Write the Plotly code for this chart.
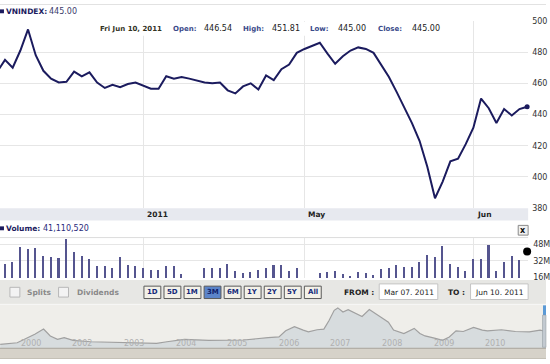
import plotly.graph_objects as go
import pandas as pd

W, H = 550, 364

# ---------------- data ----------------
dates = pd.bdate_range("2011-03-07", "2011-06-10").strftime("%Y-%m-%d").tolist()

close = [467.5, 475, 470, 481, 494.5, 478, 468, 463, 460.5, 461,
         467.5, 464.5, 467, 460.5, 457, 459, 457.5, 459.5, 460.5, 458.5,
         456.5, 456.5, 464.5, 463, 464, 463, 461.5, 460.5, 460, 460.5,
         455.5, 453.5, 458, 460, 456, 465, 462, 469, 472, 479.5,
         482, 484, 486, 479, 472.5, 477.3, 481, 483, 482, 479.5,
         472, 464, 454.5, 445, 434.5, 423, 406.5, 386.3, 397, 410,
         411.7, 421, 431.5, 450.2, 444, 434.6, 443.5, 439.4, 443.5, 445]

volume_m = [30, 29.4, 31.7, 46.1, 43.9, 45.4, 36.8, 36.2, 35.6, 53.5,
            41.3, 36.8, 33.9, 27.8, 27.8, 25.2, 36.2, 28.2, 27.2, 25.2,
            23.7, 23.7, 27.2, 27.5, 19.8, 0, 0, 25.2, 25.2, 25.9,
            29.4, 22.7, 20.8, 22.0, 24.0, 25.6, 28.2, 28.2, 23.0, 25.2,
            0, 0, 20.8, 21.4, 22.7, 19.8, 18.2, 21.4, 21.0, 19.0,
            24.6, 25.2, 28.2, 26.9, 26.3, 31.7, 38.4, 35.8, 46.7, 29.4,
            26.9, 22.4, 34.3, 34.6, 48.0, 22.4, 31.7, 37.5, 33.3, 41.11052]

nav_year = [2000.60, 2000.93, 2001.27, 2001.44, 2001.57, 2001.71, 2001.84, 2002.01,
            2002.35, 2002.62, 2003.30, 2003.63, 2003.83, 2004.17, 2004.64, 2005.32,
            2005.79, 2006.00, 2006.13, 2006.30, 2006.47, 2006.57, 2006.74, 2006.87,
            2006.97, 2007.07, 2007.14, 2007.24, 2007.34, 2007.48, 2007.61, 2007.75,
            2007.88, 2008.02, 2008.12, 2008.22, 2008.42, 2008.52, 2008.62, 2008.73,
            2008.83, 2009.03, 2009.17, 2009.30, 2009.43, 2009.57, 2009.77, 2009.94,
            2010.04, 2010.31, 2010.58, 2010.85, 2011.06, 2011.20, 2011.44]
nav_value = [100, 150, 400, 550, 350, 250, 300, 220,
             180, 170, 150, 130, 180, 250, 220, 230,
             300, 320, 500, 620, 520, 470, 530, 550,
             800, 1100, 1170, 1050, 1120, 1020, 920, 1120,
             1000, 850, 750, 520, 420, 500, 570, 420,
             350, 280, 220, 320, 500, 480, 600, 520,
             500, 530, 480, 470, 520, 470, 445]
nav_tick_years = [2001, 2002, 2003, 2004, 2005, 2006, 2007, 2008, 2009, 2010, 2011]
nav_tick_labels = ["2000", "2002", "2003", "2004", "2005", "2006", "2007", "2008", "2009", "2010", "2011"]

price_ticks = [380, 400, 420, 440, 460, 480, 500]
vol_ticks_m = [16, 32, 48]
month_marks = ["2011-04-01", "2011-05-02", "2011-06-01"]
month_labels = ["2011", "May", "Jun"]
range_buttons = ["1D", "5D", "1M", "3M", "6M", "1Y", "2Y", "5Y", "All"]
selected_button = "3M"

# ---------------- helpers ----------------
def fx(x):
    return x / W

def fy(y):
    return 1 - y / H

FONT = "DejaVu Sans"
NAVY = "#1b1b5e"
PLOT_R = 532

fig = go.Figure()

fig.add_trace(go.Scatter(x=dates, y=close, mode="lines",
                         line=dict(color=NAVY, width=2), xaxis="x", yaxis="y",
                         hoverinfo="skip"))
fig.add_trace(go.Scatter(x=[dates[-1]], y=[close[-1]], mode="markers",
                         marker=dict(color=NAVY, size=5), xaxis="x", yaxis="y",
                         cliponaxis=False, hoverinfo="skip"))
fig.add_trace(go.Bar(x=dates[:-1], y=[v * 1e6 for v in volume_m[:-1]], width=0.2,
                     marker=dict(color="#55558f", line=dict(width=0)),
                     xaxis="x2", yaxis="y2", hoverinfo="skip"))
fig.add_trace(go.Scatter(x=[dates[-1]], y=[volume_m[-1] * 1e6], mode="markers",
                         marker=dict(color="#000000", size=8), xaxis="x2", yaxis="y2",
                         cliponaxis=False, hoverinfo="skip"))
fig.add_trace(go.Scatter(x=nav_year, y=nav_value, mode="lines", fill="tozeroy",
                         fillcolor="#d7dcde", line=dict(color="#a0a0a0", width=1.2),
                         xaxis="x3", yaxis="y3", hoverinfo="skip"))

grid = "#e6e6e6"
xr = [0.349, 69.13]
fig.update_layout(
    width=W, height=H, margin=dict(l=0, r=0, t=0, b=0),
    paper_bgcolor="white", plot_bgcolor="rgba(0,0,0,0)",
    showlegend=False, bargap=0,
    font=dict(family=FONT, size=8, color="#333"),
    xaxis=dict(domain=[0, fx(PLOT_R)], type="category", range=xr, anchor="y",
               tickvals=month_marks, showticklabels=False, showgrid=True,
               gridcolor=grid, gridwidth=1, zeroline=False, ticks="", showline=False),
    yaxis=dict(domain=[fy(209.3), fy(17.3)], range=[380, 500], side="right", anchor="x",
               tickvals=price_ticks, showgrid=True, gridcolor=grid, zeroline=False,
               ticks="", tickfont=dict(size=8, color="#333"), showline=False,
               ticklabelstandoff=3),
    xaxis2=dict(domain=[0, fx(PLOT_R)], type="category", range=xr, anchor="y2",
                matches="x", tickvals=month_marks, showticklabels=False, showgrid=True,
                gridcolor=grid, zeroline=False, ticks="", showline=False),
    yaxis2=dict(domain=[fy(281), fy(239.5)], range=[15.5e6, 54.6e6], side="right",
                anchor="x2", tickvals=[v * 1e6 for v in vol_ticks_m],
                ticktext=[f"{v}M" for v in vol_ticks_m], showgrid=True, gridcolor=grid,
                zeroline=False, ticks="", tickfont=dict(size=8, color="#333"),
                showline=False, ticklabelstandoff=4),
    xaxis3=dict(domain=[0, 1], range=[2000.596, 2011.173], anchor="y3",
                showticklabels=False, showgrid=False, zeroline=False, ticks="",
                showline=False),
    yaxis3=dict(domain=[fy(352.6), fy(308.8)], range=[0, 1250], anchor="x3",
                visible=False),
)

shapes = []
ann = []

def rect(x0, y0, x1, y1, fill, line=None, lw=1, layer="above"):
    shapes.append(dict(type="rect", xref="paper", yref="paper",
                       x0=fx(x0), x1=fx(x1), y0=fy(y1), y1=fy(y0),
                       fillcolor=fill, layer=layer,
                       line=dict(color=line if line else "rgba(0,0,0,0)", width=lw if line else 0)))

def hline(y, x0, x1, color, lw=1, layer="above"):
    shapes.append(dict(type="line", xref="paper", yref="paper", x0=fx(x0), x1=fx(x1),
                       y0=fy(y), y1=fy(y), line=dict(color=color, width=lw), layer=layer))

def text(x, y, s, size=8, color="#333", bold=False, anchor="left"):
    ann.append(dict(xref="paper", yref="paper", x=fx(x), y=fy(y),
                    text=f"<b>{s}</b>" if bold else s, showarrow=False,
                    xanchor=anchor, yanchor="middle",
                    font=dict(family=FONT, size=size, color=color)))

# top border
hline(0.5, 0, W, "#e2e2e2")

# header
rect(0, 5.5, 4, 9.5, NAVY)
text(4.5, 7.5, "VNINDEX:", 7.5, NAVY, True)
text(47.5, 7.5, "445.00", 8, "#3b3b6b")

# info box
rect(95, 18.3, 450, 32.5, "white")
info = [(99, "Fri Jun 10, 2011", "#33331f", True, 7), (172, "Open:", "#3a4a8a", True, 7),
        (203, "446.54", "#222", False, 8), (243, "High:", "#3a4a8a", True, 7),
        (272, "451.81", "#222", False, 8), (310, "Low:", "#3a4a8a", True, 7),
        (338.5, "445.00", "#222", False, 8), (379, "Close:", "#3a4a8a", True, 7),
        (413.5, "445.00", "#222", False, 8)]
for x, s, c, b, sz in info:
    text(x, 25.3, s, sz, c, b)

# x axis band
rect(0, 209.3, PLOT_R, 222, "#e7e9ef")
for m, lab in zip(month_marks, month_labels):
    ann.append(dict(xref="x", yref="paper", x=m, y=fy(215.8), text=f"<b>{lab}</b>",
                    showarrow=False, xanchor="left", yanchor="middle", xshift=1.5,
                    font=dict(family=FONT, size=7.5, color="#222")))

# volume header
rect(0, 228, 4, 232, NAVY)
text(4.5, 230, "Volume:", 7.5, NAVY, True)
text(41.5, 230, "41,110,520", 8, "#2b2b7b")
hline(239.5, 0, PLOT_R, "#dcdcdc")
rect(522, 227, 532, 237, "#f0f0f0", "#8a8a8a", 1)
text(527, 232, "x", 8, "#111", True, "center")

# controls row
rect(0, 283, W, 307.5, "#e7e7e4", layer="below")
rect(10, 290.5, 20, 300.5, "#f3f3f3", "#b8b8b8")
text(25.5, 295.5, "Splits", 7.5, "#8a8a8a", True)
rect(59, 290.5, 69, 300.5, "#f3f3f3", "#b8b8b8")
text(75.5, 295.5, "Dividends", 7.5, "#8a8a8a", True)
bx = 145
for lab in range_buttons:
    sel = lab == selected_button
    rect(bx, 289.3, bx + 17, 302, "#5b84c9" if sel else "#f3f1e8", "#5a5a5a", 1)
    text(bx + 8.5, 295.8, lab, 7, "#152a7a" if not sel else "#10206a", True, "center")
    bx += 20.2
text(345, 295.5, "FROM :", 7.5, "#222", True)
rect(382, 287, 441, 303, "white", "#c4c4c4")
text(411.5, 295.5, "Mar 07. 2011", 7.5, "#222", False, "center")
text(449, 295.5, "TO :", 7.5, "#222", True)
rect(474, 287, 532, 303, "white", "#c4c4c4")
text(503, 295.5, "Jun 10. 2011", 7.5, "#222", False, "center")

# navigator background, year labels & scrollbar
rect(0, 307.5, W, 352.6, "#efeeea", layer="below")
hline(308, 0, W, "#f8f8f6", 1, "below")
for yr, lab in zip(nav_tick_years, nav_tick_labels):
    ann.append(dict(xref="x3", yref="paper", x=yr + 0.19, y=fy(348), text=lab,
                    showarrow=False, xanchor="center", yanchor="middle",
                    font=dict(family=FONT, size=8, color="#b0b0b0")))
rect(0, 352.6, W, 364, "#d6d2c9", layer="above")
hline(353, 0, W, "#a8a59d", 1)
hline(363.5, 0, W, "#c4c0b6", 1)
rect(547, 309, 550, 319, "#5b9ad6")
rect(546.5, 319, 550, 352, "#c3cad1", "#8d949b", 0.5)

fig.update_layout(shapes=shapes, annotations=ann)
fig.write_html("out.html")
